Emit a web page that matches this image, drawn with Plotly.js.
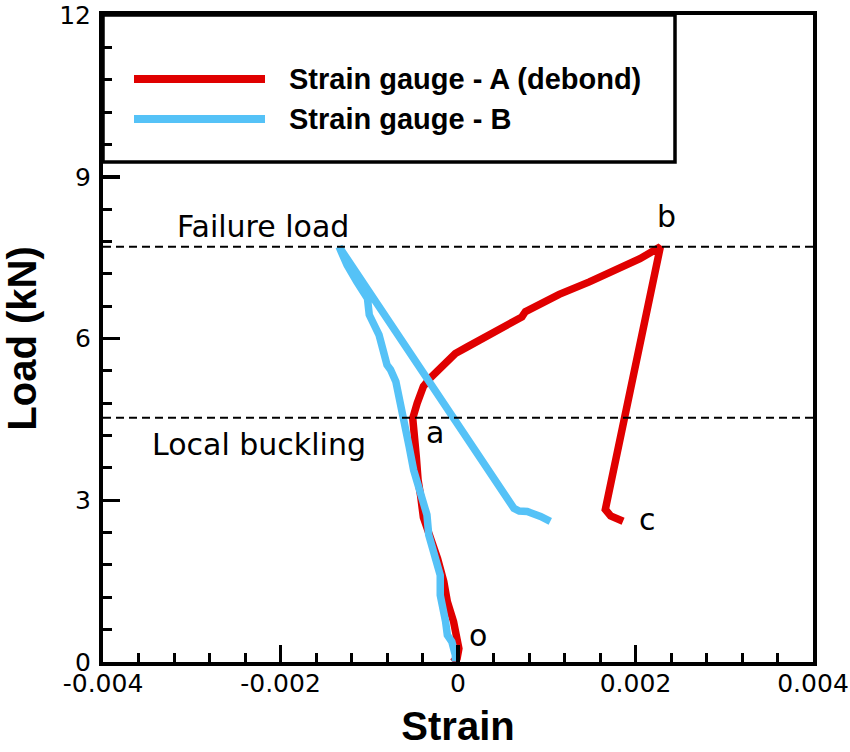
<!DOCTYPE html>
<html>
<head>
<meta charset="utf-8">
<script src="https://cdn.plot.ly/plotly-3.0.1.min.js"></script>
<style>html,body{margin:0;padding:0;background:#fff;}#chart{width:850px;height:752px;}</style>
</head>
<body>
<div id="chart"></div>
<script>
// ---- data ----
const seriesNames = ['Strain gauge - A (debond)', 'Strain gauge - B'];

const strainA = [-0.00006, -0.00001, 0.00001, -0.00001, -0.00005, -0.00012, -0.00016, -0.00023, -0.00031,
  -0.00039, -0.00042, -0.00045, -0.00047, -0.00050, -0.00051, -0.00046, -0.00039, -0.00031, -0.00022, -0.00012,
  -0.00003, 0.00010, 0.00037, 0.00063, 0.00072, 0.00076, 0.00084, 0.00114, 0.00148, 0.00180, 0.00205,
  0.00228, 0.00187, 0.00168, 0.00166, 0.00172, 0.00186];
const loadA = [0.00, 0.07, 0.25, 0.44, 0.75, 1.12, 1.49, 1.92, 2.33,
  2.68, 3.07, 3.38, 3.81, 4.18, 4.52, 4.80, 5.11, 5.27, 5.42, 5.57,
  5.72, 5.84, 6.10, 6.33, 6.40, 6.50, 6.57, 6.82, 7.05, 7.30, 7.48,
  7.70, 4.52, 3.01, 2.83, 2.71, 2.61];

const strainB = [-0.00003, -0.00003, -0.00007, -0.00012, -0.00014, -0.00020, -0.00020, -0.00027, -0.00033,
  -0.00035, -0.00039, -0.00044, -0.00050, -0.00055, -0.00061, -0.00065, -0.00067, -0.00070, -0.00076,
  -0.00080, -0.00084, -0.00089, -0.00100, -0.00102, -0.00114, -0.00125, -0.00134,
  -0.00006, 0.00063, 0.00069, 0.00078, 0.00093, 0.00104];
const loadB = [0.01, 0.13, 0.38, 0.50, 0.75, 1.24, 1.61, 2.05, 2.36,
  2.73, 2.94, 3.19, 3.56, 3.99, 4.52, 4.80, 5.04, 5.20, 5.42,
  5.51, 5.76, 6.07, 6.44, 6.74, 7.05, 7.36, 7.70,
  4.52, 2.85, 2.80, 2.79, 2.70, 2.61];

const refLoads = [7.70, 4.53];
const refLabels = ['Failure load', 'Local buckling'];
const pointLabels = ['o', 'a', 'b', 'c'];

const xTickVals = [-0.004, -0.002, 0, 0.002, 0.004];
const xTickText = ['-0.004', '-0.002', '0', '0.002', '0.004'];
const yTickVals = [0, 3, 6, 9, 12];
const yTickText = ['0', '3', '6', '9', '12'];

// ---- styles ----
const BOLD = '"Liberation Sans", Arial, Helvetica, sans-serif';
const REG = '"DejaVu Sans", Verdana, sans-serif';
const RED = '#e00000';
const BLUE = '#55c2f7';
const colors = [RED, BLUE];

const traces = [
  {x: strainA, y: loadA, name: seriesNames[0], type: 'scatter', mode: 'lines',
   line: {color: RED, width: 7.5}},
  {x: strainB, y: loadB, name: seriesNames[1], type: 'scatter', mode: 'lines',
   line: {color: BLUE, width: 7.5}}
];

const shapes = [];
refLoads.forEach(v => shapes.push({type: 'line', xref: 'paper', yref: 'y', x0: 0, x1: 1, y0: v, y1: v,
  line: {color: '#000', width: 2, dash: '8px,5px'}}));
// legend box
shapes.push({type: 'rect', xref: 'paper', yref: 'paper', x0: 0, x1: (675 - 103) / 710, y0: (662 - 162) / 647, y1: 1,
  line: {color: '#000', width: 3.5}, fillcolor: 'rgba(0,0,0,0)'});
const legY = [79, 119];
seriesNames.forEach((n, i) => {
  shapes.push({type: 'line', xref: 'paper', yref: 'paper', x0: (134 - 103) / 710, x1: (265 - 103) / 710,
    y0: (662 - legY[i]) / 647, y1: (662 - legY[i]) / 647, line: {color: colors[i], width: 8}});
});

const annotations = [];
seriesNames.forEach((n, i) => {
  annotations.push({xref: 'paper', yref: 'paper', x: (287 - 103) / 710, y: (662 - legY[i]) / 647,
    xanchor: 'left', yanchor: 'middle', text: '<b>' + n + '</b>', showarrow: false,
    font: {family: BOLD, size: 29, color: '#000'}});
});
const labelFont = {family: REG, size: 30, color: '#000'};
annotations.push({x: -0.00220, y: 8.08, xref: 'x', yref: 'y', text: refLabels[0], showarrow: false, xanchor: 'center', yanchor: 'middle', font: labelFont});
annotations.push({x: -0.00224, y: 4.04, xref: 'x', yref: 'y', text: refLabels[1], showarrow: false, xanchor: 'center', yanchor: 'middle', font: labelFont});
const ptPos = [[0.00022, 0.50], [-0.000254, 4.25], [0.00235, 8.27], [0.002135, 2.64]];
pointLabels.forEach((t, i) => annotations.push({x: ptPos[i][0], y: ptPos[i][1], xref: 'x', yref: 'y', text: t,
  showarrow: false, xanchor: 'center', yanchor: 'middle', font: labelFont}));

const layout = {
  width: 850, height: 752,
  margin: {l: 103, r: 37, t: 15, b: 90, pad: 0},
  paper_bgcolor: '#fff', plot_bgcolor: '#fff',
  showlegend: false,
  font: {family: REG, color: '#000'},
  xaxis: {
    range: [-0.004, 0.004], tickmode: 'array', tickvals: xTickVals, ticktext: xTickText,
    showgrid: false, zeroline: false, showline: true, mirror: true, linecolor: '#000', linewidth: 4,
    ticks: 'inside', ticklen: 17, tickwidth: 3.5, tickcolor: '#000', ticklabelstandoff: -4,
    tickfont: {family: REG, size: 25, color: '#000'},
    minor: {tickmode: 'linear', tick0: -0.004, dtick: 0.0004, ticks: 'inside', ticklen: 9, tickwidth: 3, tickcolor: '#000', showgrid: false},
    title: {text: '<b>Strain</b>', font: {family: BOLD, size: 40, color: '#000'}, standoff: 16}
  },
  yaxis: {
    range: [0, 12], tickmode: 'array', tickvals: yTickVals, ticktext: yTickText,
    showgrid: false, zeroline: false, showline: true, mirror: true, linecolor: '#000', linewidth: 4,
    ticks: 'inside', ticklen: 17, tickwidth: 3.5, tickcolor: '#000', ticklabelstandoff: 3,
    tickfont: {family: REG, size: 25, color: '#000'},
    minor: {tickmode: 'linear', tick0: 0, dtick: 0.6, ticks: 'inside', ticklen: 9, tickwidth: 3, tickcolor: '#000', showgrid: false},
    title: {text: '<b>Load (kN)</b>', font: {family: BOLD, size: 40, color: '#000'}, standoff: 14}
  },
  shapes: shapes,
  annotations: annotations
};

Plotly.newPlot('chart', traces, layout, {staticPlot: true, displayModeBar: false});
</script>
</body>
</html>
